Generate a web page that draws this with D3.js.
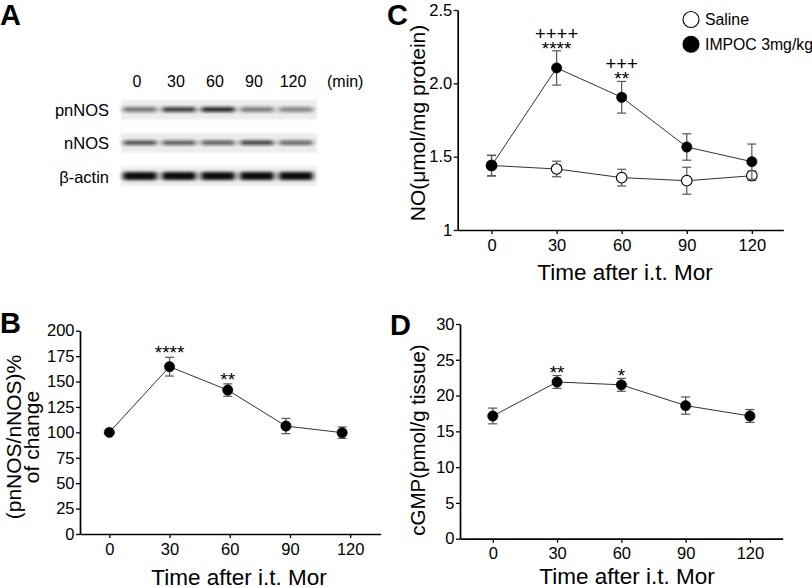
<!DOCTYPE html>
<html><head><meta charset="utf-8">
<script src="https://cdn.jsdelivr.net/npm/d3@7"></script>
<style>
body{margin:0;background:#fff}
svg{display:block}
text{font-family:"Liberation Sans",Arial,Helvetica,sans-serif;fill:#000}
</style>
</head><body>
<svg id="fig" width="812" height="587"></svg>
<script>
// ---------- DATA ----------
const times = [0, 30, 60, 90, 120];
const xTickLabels = ["0", "30", "60", "90", "120"];

// Panel A (western blot): relative band intensities per lane
const blotRows = ["pnNOS", "nNOS", "β-actin"];
const pnNOSBand = [0.55, 0.78, 0.88, 0.52, 0.48];
const nNOSBand = [0.72, 0.68, 0.66, 0.78, 0.62];
const actinBand = [1, 1, 1, 1, 1];

// Panel B: (pnNOS/nNOS)% of change
const bTimes = [0, 30, 59, 88, 116];
const bMean = [100, 164.6, 141.6, 106.2, 99.7];
const bErr = [0, 9.2, 6.1, 7.5, 5.6];
const bStars = ["", "****", "**", "", ""];
const bYTicks = [0, 25, 50, 75, 100, 125, 150, 175, 200];

// Panel C: NO (µmol/mg protein)
const seriesNames = ["Saline", "IMPOC 3mg/kg"];
const cSaline = [1.44, 1.416, 1.357, 1.336, 1.37];
const cSalineErr = [0.07, 0.053, 0.057, 0.092, 0.032];
const cImpoc = [1.438, 2.105, 1.905, 1.566, 1.466];
const cImpocErr = [0.07, 0.117, 0.108, 0.09, 0.12];
const cStars = ["", "****", "**", "", ""];
const cPlus = ["", "++++", "+++", "", ""];
const cYTicks = [1, 1.5, 2.0, 2.5];
const cYTickLabels = ["1", "1.5", "2.0", "2.5"];

// Panel D: cGMP (pmol/g tissue)
const dMean = [17.15, 21.9, 21.5, 18.6, 17.15];
const dErr = [1.1, 0.9, 0.9, 1.2, 0.9];
const dStars = ["", "**", "*", "", ""];
const dYTicks = [0, 5, 10, 15, 20, 25, 30];

const xTitle = "Time after i.t. Mor";

// ---------- DRAW ----------
const svg = d3.select("#fig");
const defs = svg.append("defs");
defs.append("filter").attr("id", "blur").attr("x", "-30%").attr("y", "-100%").attr("width", "160%").attr("height", "300%")
  .append("feGaussianBlur").attr("stdDeviation", "2.4 1.4");
defs.append("filter").attr("id", "blurS").attr("x", "-10%").attr("y", "-50%").attr("width", "120%").attr("height", "200%")
  .append("feGaussianBlur").attr("stdDeviation", "1.2");

function panelLabel(t, x, y) {
  svg.append("text").attr("x", x).attr("y", y).attr("font-size", 29).attr("font-weight", "bold").text(t);
}

function axes(x, y, yTicks, yFmt, tickFs) {
  const g = svg.append("g");
  const gx = g.append("g").attr("transform", `translate(0,${y.range()[0]})`)
    .call(d3.axisBottom(x).tickValues(times).tickFormat((d, i) => xTickLabels[i]).tickSize(4).tickPadding(5).tickSizeOuter(0));
  const gy = g.append("g").attr("transform", `translate(${x.range()[0]},0)`)
    .call(d3.axisLeft(y).tickValues(yTicks).tickFormat(yFmt).tickSize(4).tickPadding(1.5).tickSizeOuter(0));
  [gx, gy].forEach(a => {
    a.select(".domain").attr("stroke", "#000").attr("stroke-width", 1.7);
    a.selectAll(".tick line").attr("stroke", "#000").attr("stroke-width", 1.3);
    a.selectAll("text").attr("font-size", tickFs).attr("font-family", null).attr("fill", "#000");
  });
  return g;
}

function series(x, y, xs, mean, err, filled) {
  const g = svg.append("g");
  const line = d3.line().x((d, i) => x(xs[i])).y(d => y(d));
  g.append("path").datum(mean).attr("d", line).attr("fill", "none").attr("stroke", "#333").attr("stroke-width", 1);
  const eb = g.selectAll(".eb").data(mean.map((m, i) => ({ m, e: err[i], t: xs[i] })).filter(d => d.e > 0)).join("g");
  eb.append("line").attr("x1", d => x(d.t)).attr("x2", d => x(d.t)).attr("y1", d => y(d.m - d.e)).attr("y2", d => y(d.m + d.e));
  eb.append("line").attr("x1", d => x(d.t) - 4.5).attr("x2", d => x(d.t) + 4.5).attr("y1", d => y(d.m + d.e)).attr("y2", d => y(d.m + d.e));
  eb.append("line").attr("x1", d => x(d.t) - 4.5).attr("x2", d => x(d.t) + 4.5).attr("y1", d => y(d.m - d.e)).attr("y2", d => y(d.m - d.e));
  eb.selectAll("line").attr("stroke", "#555").attr("stroke-width", 1.2);
  g.selectAll("circle").data(mean).join("circle")
    .attr("cx", (d, i) => x(xs[i])).attr("cy", d => y(d)).attr("r", filled ? 5.2 : 5.3)
    .attr("fill", filled ? "#000" : "#fff").attr("stroke", "#000").attr("stroke-width", filled ? 0.5 : 1.1);
}

function annot(x, y, xs, mean, err, labels, offset, fs) {
  svg.append("g").selectAll("text").data(labels).join("text")
    .attr("x", (d, i) => x(xs[i])).attr("y", (d, i) => y(mean[i] + err[i]) + offset)
    .attr("text-anchor", "middle").attr("font-size", fs).text(d => d);
}

function xAxisTitle(cx, by) {
  svg.append("text").attr("x", cx).attr("y", by).attr("text-anchor", "middle").attr("font-size", 22.5).text(xTitle);
}
function yAxisTitle(t, bx, cy, fs) {
  svg.append("text").attr("transform", `translate(${bx},${cy}) rotate(-90)`).attr("text-anchor", "middle").attr("font-size", fs).text(t);
}

// ----- Panel A -----
panelLabel("A", 0, 25);
const lane = d3.scalePoint().domain(times).range([140, 296]);
const rowY = d3.scalePoint().domain(blotRows).range([109.5, 176]);
const bandH = { "pnNOS": 5, "nNOS": 4.5, "β-actin": 8 };
const rowVals = { "pnNOS": pnNOSBand, "nNOS": nNOSBand, "β-actin": actinBand };
svg.append("g").selectAll("text").data(times).join("text")
  .attr("x", d => lane(d) - 3).attr("y", 87).attr("text-anchor", "middle").attr("font-size", 16)
  .text((d, i) => xTickLabels[i]);
svg.append("text").attr("x", 327).attr("y", 87).attr("font-size", 16).text("(min)");
blotRows.forEach(r => {
  const cy = rowY(r);
  svg.append("rect").attr("x", 121).attr("y", cy - 9.5).attr("width", 196).attr("height", 19.5)
    .attr("fill", "#ececec").attr("filter", "url(#blurS)");
  svg.append("text").attr("x", 109).attr("y", cy + (r === "β-actin" ? 6.5 : 6)).attr("text-anchor", "end").attr("font-size", 16.5).text(r);
  svg.append("g").attr("filter", "url(#blur)").selectAll("rect").data(rowVals[r]).join("rect")
    .attr("x", (d, i) => lane(times[i]) - 17).attr("y", cy - bandH[r] / 2)
    .attr("width", 34).attr("height", bandH[r]).attr("rx", 2)
    .attr("fill", "#111").attr("opacity", d => d);
});

// ----- Panel B -----
panelLabel("B", 0, 333);
const xB = d3.scaleLinear().domain([-14.6, 135.2]).range([80, 380.7]);
const yB = d3.scaleLinear().domain([0, 200]).range([534, 330.7]);
axes(xB, yB, bYTicks, d => d, 16.5);
series(xB, yB, bTimes, bMean, bErr, true);
annot(xB, yB, bTimes, bMean, bErr, bStars, 2, 19);
xAxisTitle(239, 585);
svg.append("text").attr("transform", "translate(20.5,437) rotate(-90)").attr("text-anchor", "middle").attr("font-size", 21).text("(pnNOS/nNOS)%");
svg.append("text").attr("transform", "translate(39,437) rotate(-90)").attr("text-anchor", "middle").attr("font-size", 21).text("of change");

// ----- Panel C -----
panelLabel("C", 387, 25);
const xC = d3.scaleLinear().domain([-15.6, 134.5]).range([457.7, 783.3]);
const yC = d3.scaleLinear().domain([1, 2.5]).range([230, 10]);
axes(xC, yC, cYTicks, (d, i) => cYTickLabels[i], 16.5);
series(xC, yC, times, cSaline, cSalineErr, false);
series(xC, yC, times, cImpoc, cImpocErr, true);
annot(xC, yC, times, cImpoc, cImpocErr, cStars, 4, 19);
annot(xC, yC, times, cImpoc, cImpocErr, cPlus, -11, 18.5);
xAxisTitle(625, 280);
yAxisTitle("NO(μmol/mg protein)", 425, 123, 21);
// legend
const leg = svg.append("g").selectAll("g").data(seriesNames).join("g")
  .attr("transform", (d, i) => `translate(691,${19.5 + i * 24.7})`);
leg.append("circle").attr("r", 8).attr("fill", (d, i) => i ? "#000" : "#fff").attr("stroke", "#000").attr("stroke-width", 1.1);
leg.append("text").attr("x", 14).attr("y", 5.8).attr("font-size", 15.8).text(d => d);

// ----- Panel D -----
panelLabel("D", 390, 335);
const xD = d3.scaleLinear().domain([-15.3, 135.3]).range([460, 782.7]);
const yD = d3.scaleLinear().domain([0, 30]).range([538.7, 324]);
axes(xD, yD, dYTicks, d => d, 16.5);
series(xD, yD, times, dMean, dErr, true);
annot(xD, yD, times, dMean, dErr, dStars, 3.5, 19);
xAxisTitle(627, 584);
yAxisTitle("cGMP(pmol/g tissue)", 425, 440, 20.5);
</script>
</body></html>
